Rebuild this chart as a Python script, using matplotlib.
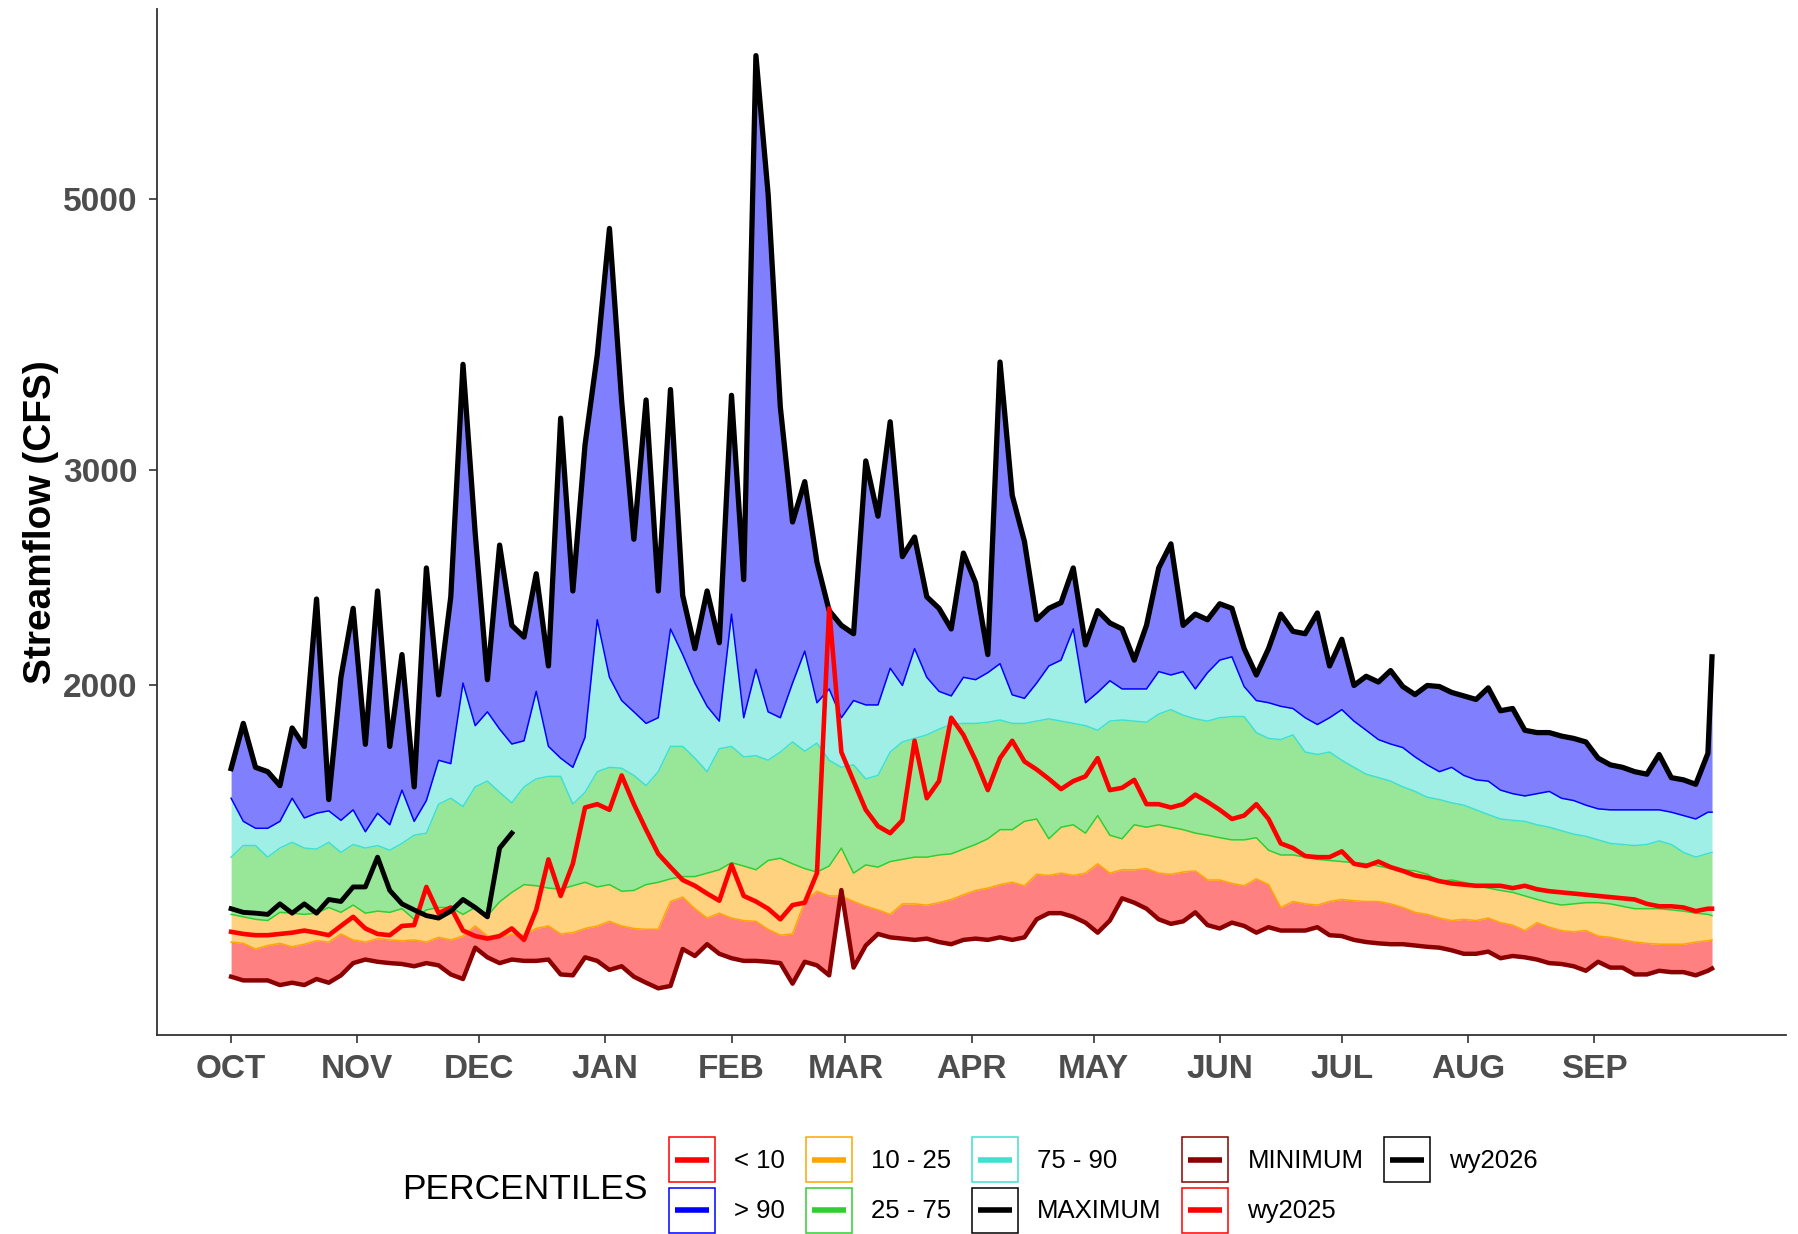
import numpy as np
import matplotlib.pyplot as plt
from matplotlib.lines import Line2D
from matplotlib.patches import Rectangle
from matplotlib.ticker import NullLocator

# water-year day (Oct 1 = 1), read every 3rd day off the chart
days = list(range(1, 365, 3)) + [365]

maximum = [
    1710, 1862, 1714, 1700, 1656, 1846, 1783, 2354, 1613, 2031,
    2313, 1790, 2390, 1783, 2120, 1652, 2496, 1965, 2364, 3664,
    2664, 2022, 2606, 2240, 2191, 2469, 2075, 3310, 2390, 3149,
    3729, 4734, 3419, 2635, 3426, 2390, 3494, 2370, 2144, 2390,
    2168, 3456, 2442, 6557, 5050, 3380, 2722, 2937, 2523, 2303,
    2240, 2205, 3054, 2752, 3288, 2550, 2646, 2364, 2313, 2225,
    2567, 2427, 2120, 3680, 2862, 2624, 2264, 2313, 2338, 2496,
    2159, 2303, 2250, 2225, 2098, 2240, 2496, 2612, 2240, 2288,
    2264, 2333, 2313, 2144, 2040, 2144, 2288, 2215, 2205, 2293,
    2075, 2182, 2000, 2035, 2013, 2057, 1996, 1966, 2000, 1996,
    1974, 1961, 1948, 1991, 1907, 1915, 1838, 1830, 1830, 1818,
    1810, 1798, 1744, 1722, 1714, 1700, 1692, 1756, 1681, 1674,
    1660, 1760, 2111]

p90 = [
    1617, 1548, 1528, 1528, 1548, 1617, 1558, 1572, 1579, 1551,
    1582, 1518, 1572, 1538, 1642, 1548, 1610, 1737, 1726, 2009,
    1854, 1903, 1842, 1791, 1802, 1978, 1783, 1744, 1714, 1814,
    2264, 2031, 1944, 1903, 1862, 1882, 2225, 2120, 2009, 1923,
    1870, 2288, 1882, 2062, 1903, 1882, 2009, 2134, 1936, 1987,
    1882, 1944, 1928, 1928, 2066, 2000, 2144, 2031, 1978, 1961,
    2031, 2022, 2049, 2084, 1965, 1952, 2009, 2075, 2098, 2225,
    1936, 1974, 2018, 1987, 1987, 1987, 2053, 2040, 2053, 1987,
    2049, 2098, 2111, 1996, 1944, 1936, 1923, 1915, 1882, 1858,
    1882, 1911, 1870, 1838, 1806, 1791, 1779, 1748, 1722, 1700,
    1714, 1688, 1674, 1670, 1642, 1631, 1624, 1631, 1638, 1617,
    1610, 1596, 1585, 1582, 1582, 1582, 1582, 1582, 1575, 1565,
    1555, 1575, 1575]

p75 = [
    1447, 1479, 1479, 1447, 1472, 1488, 1472, 1469, 1488, 1460,
    1482, 1472, 1479, 1466, 1485, 1508, 1514, 1599, 1617, 1592,
    1652, 1670, 1635, 1603, 1652, 1677, 1685, 1685, 1599, 1635,
    1700, 1714, 1711, 1688, 1656, 1700, 1783, 1783, 1744, 1700,
    1775, 1783, 1748, 1752, 1737, 1764, 1798, 1767, 1794, 1737,
    1714, 1722, 1677, 1688, 1764, 1798, 1810, 1822, 1842, 1858,
    1862, 1862, 1866, 1874, 1862, 1862, 1870, 1878, 1870, 1862,
    1854, 1838, 1870, 1874, 1870, 1866, 1895, 1911, 1891, 1878,
    1870, 1882, 1886, 1886, 1830, 1810, 1806, 1822, 1764, 1756,
    1764, 1737, 1714, 1692, 1681, 1670, 1652, 1638, 1620, 1613,
    1603, 1596, 1582, 1568, 1555, 1551, 1548, 1538, 1531, 1521,
    1511, 1505, 1495, 1485, 1482, 1479, 1482, 1492, 1482, 1460,
    1447, 1457, 1460]

p25 = [
    1299, 1293, 1287, 1284, 1304, 1302, 1299, 1302, 1316, 1304,
    1322, 1302, 1307, 1304, 1313, 1287, 1310, 1316, 1316, 1299,
    1316, 1296, 1330, 1354, 1374, 1371, 1365, 1362, 1371, 1380,
    1368, 1374, 1357, 1359, 1374, 1380, 1389, 1395, 1395, 1404,
    1413, 1432, 1423, 1413, 1438, 1444, 1429, 1416, 1407, 1423,
    1472, 1404, 1426, 1420, 1435, 1441, 1447, 1447, 1453, 1456,
    1469, 1482, 1498, 1524, 1524, 1548, 1555, 1498, 1531, 1538,
    1514, 1565, 1508, 1498, 1538, 1531, 1538, 1531, 1524, 1514,
    1508, 1501, 1495, 1495, 1501, 1466, 1453, 1453, 1447, 1441,
    1438, 1435, 1432, 1429, 1423, 1416, 1413, 1410, 1401, 1383,
    1386, 1380, 1371, 1365, 1359, 1354, 1345, 1336, 1328, 1322,
    1325, 1328, 1328, 1325, 1319, 1313, 1313, 1313, 1310, 1307,
    1302, 1299, 1296]

p10 = [
    1233, 1230, 1217, 1225, 1230, 1222, 1228, 1236, 1233, 1252,
    1238, 1233, 1241, 1238, 1236, 1238, 1233, 1244, 1238, 1247,
    1271, 1247, 1244, 1252, 1249, 1265, 1271, 1252, 1255, 1265,
    1271, 1282, 1271, 1265, 1263, 1263, 1331, 1342, 1313, 1290,
    1302, 1290, 1284, 1282, 1263, 1249, 1252, 1331, 1357, 1345,
    1345, 1331, 1319, 1310, 1299, 1325, 1325, 1322, 1328, 1336,
    1348, 1359, 1365, 1374, 1380, 1371, 1401, 1398, 1404, 1398,
    1404, 1429, 1404, 1413, 1413, 1416, 1404, 1401, 1407, 1410,
    1386, 1386, 1377, 1371, 1389, 1374, 1316, 1331, 1325, 1322,
    1331, 1336, 1333, 1331, 1331, 1325, 1316, 1304, 1299, 1290,
    1284, 1287, 1284, 1290, 1279, 1273, 1260, 1279, 1268, 1260,
    1257, 1260, 1247, 1244, 1238, 1233, 1230, 1228, 1228, 1228,
    1233, 1236, 1238]

minimum = [
    1155, 1147, 1147, 1147, 1137, 1142, 1137, 1150, 1142, 1158,
    1185, 1193, 1188, 1185, 1183, 1178, 1185, 1180, 1160, 1150,
    1220, 1198, 1185, 1193, 1190, 1190, 1193, 1160, 1158, 1198,
    1190, 1170, 1178, 1155, 1142, 1130, 1135, 1217, 1201, 1228,
    1206, 1196, 1190, 1190, 1188, 1185, 1140, 1188, 1180, 1158,
    1360, 1175, 1225, 1252, 1244, 1241, 1238, 1241, 1233, 1228,
    1238, 1241, 1238, 1244, 1238, 1244, 1287, 1302, 1302, 1293,
    1279, 1255, 1284, 1339, 1328, 1313, 1287, 1276, 1282, 1304,
    1273, 1265, 1279, 1271, 1255, 1268, 1260, 1260, 1260, 1268,
    1249, 1247, 1238, 1233, 1230, 1228, 1228, 1225, 1222, 1220,
    1214, 1206, 1206, 1211, 1196, 1201, 1198, 1193, 1185, 1183,
    1178, 1168, 1188, 1175, 1175, 1160, 1160, 1168, 1165, 1165,
    1158, 1168, 1173]

wy2025 = [
    1257, 1252, 1249, 1249, 1252, 1255, 1260, 1255, 1249, 1271,
    1293, 1265, 1252, 1249, 1271, 1273, 1368, 1302, 1316, 1260,
    1247, 1241, 1247, 1265, 1238, 1310, 1441, 1345, 1429, 1589,
    1599, 1582, 1688, 1599, 1524, 1456, 1420, 1386, 1371, 1351,
    1333, 1426, 1345, 1331, 1313, 1287, 1322, 1328, 1404, 2313,
    1764, 1670, 1582, 1534, 1514, 1551, 1802, 1617, 1670, 1882,
    1822, 1737, 1642, 1744, 1802, 1733, 1707, 1677, 1645, 1670,
    1685, 1744, 1642, 1649, 1674, 1599, 1599, 1589, 1599, 1628,
    1606, 1582, 1555, 1565, 1599, 1555, 1485, 1472, 1450, 1447,
    1447, 1463, 1429, 1423, 1435, 1420, 1410, 1398, 1392, 1383,
    1377, 1374, 1371, 1371, 1371, 1365, 1371, 1362, 1357, 1354,
    1351, 1348, 1345, 1342, 1339, 1336, 1325, 1319, 1319, 1316,
    1307, 1313, 1313]

wy2026 = [
    1313, 1304, 1302, 1299, 1325, 1302, 1325, 1302, 1336, 1331,
    1368, 1368, 1447, 1359, 1325, 1310, 1296, 1290, 1307, 1336,
    1316, 1293, 1472, 1514]

month_days = [1, 32, 62, 93, 124, 152, 183, 213, 244, 274, 305, 336]
month_labels = ["OCT", "NOV", "DEC", "JAN", "FEB", "MAR",
                "APR", "MAY", "JUN", "JUL", "AUG", "SEP"]
y_ticks = [2000, 3000, 5000]


class KeyHandler:
    # ggplot-like key: outlined box with a short line in the middle
    def legend_artist(self, legend, orig_handle, fontsize, handlebox):
        x0, y0 = handlebox.xdescent, handlebox.ydescent
        w, h = handlebox.width, handlebox.height
        c = orig_handle.get_color()
        box = Rectangle((-x0, -y0), w, h, facecolor='white', edgecolor=c,
                        lw=1.1, transform=handlebox.get_transform())
        line = Line2D([-x0 + 0.13 * w, -x0 + 0.87 * w], [-y0 + h / 2] * 2,
                      color=c, lw=4, solid_capstyle='butt',
                      transform=handlebox.get_transform())
        handlebox.add_artist(box)
        handlebox.add_artist(line)
        return box


plt.rcParams['font.family'] = ['Liberation Sans', 'DejaVu Sans']

fig = plt.figure(figsize=(17.99, 12.34), dpi=100)
ax = fig.add_axes([0.0873, 0.1613, 0.9055, 0.8314])

# percentile bands
ax.fill_between(days, minimum, p10, color='#FF8080', lw=0, zorder=1)
ax.fill_between(days, p10, p25, color='#FFD280', lw=0, zorder=1)
ax.fill_between(days, p25, p75, color='#98E698', lw=0, zorder=1)
ax.fill_between(days, p75, p90, color='#A0EFE7', lw=0, zorder=1)
ax.fill_between(days, p90, maximum, color='#8080FF', lw=0, zorder=1)

ax.plot(days, p10, color='orange', lw=1.1, zorder=2)
ax.plot(days, p25, color='#32CD32', lw=1.1, zorder=2)
ax.plot(days, p75, color='#40E0D0', lw=1.1, zorder=2)
ax.plot(days, p90, color='blue', lw=1.1, zorder=2)
ax.plot(days, minimum, color='#8B0000', lw=3.2, zorder=3)
ax.plot(days, maximum, color='black', lw=3.8, zorder=3)
ax.plot(days, wy2025, color='red', lw=3.3, zorder=4)
ax.plot(days[:len(wy2026)], wy2026, color='black', lw=3.5, zorder=5)

ax.set_yscale('log')
lo, hi = np.log10(min(minimum)), np.log10(max(maximum))
span = hi - lo
ax.set_ylim(10 ** (lo - 0.05 * span), 10 ** (hi + 0.05 * span))
ax.set_xlim(1 - 0.05 * 364, 365 + 0.05 * 364)

ax.set_yticks(y_ticks)
ax.set_yticklabels([str(t) for t in y_ticks])
ax.yaxis.set_minor_locator(NullLocator())
ax.set_xticks(month_days)
ax.set_xticklabels(month_labels)
ax.tick_params(axis='both', labelsize=24, labelcolor='#4D4D4D', color='#333333',
               length=6, width=1.2, pad=8)
for lab in ax.get_xticklabels() + ax.get_yticklabels():
    lab.set_fontweight('bold')

for side in ['top', 'right']:
    ax.spines[side].set_visible(False)
for side in ['left', 'bottom']:
    ax.spines[side].set_color('#333333')
    ax.spines[side].set_linewidth(1.3)

ax.set_ylabel('Streamflow (CFS)', fontsize=28, fontweight='bold', labelpad=3)

# legend
keys = [('< 10', 'red'), ('> 90', 'blue'), ('10 - 25', 'orange'),
        ('25 - 75', '#32CD32'), ('75 - 90', '#40E0D0'), ('MAXIMUM', 'black'),
        ('MINIMUM', '#8B0000'), ('wy2025', 'red'), ('wy2026', 'black')]
handles = [Line2D([], [], color=c) for _, c in keys]
fig.legend(handles, [k for k, _ in keys], loc='lower left',
           bbox_to_anchor=(0.372, 0.001), ncol=5, frameon=False,
           fontsize=18.5, handlelength=1.79, handleheight=2.31,
           handletextpad=0.75, columnspacing=0.8, labelspacing=0.22,
           borderpad=0, borderaxespad=0,
           handler_map={Line2D: KeyHandler()})
fig.text(0.360, 0.036, 'PERCENTILES', ha='right', va='center', fontsize=25.5)

fig.savefig('out.png', dpi=100)
